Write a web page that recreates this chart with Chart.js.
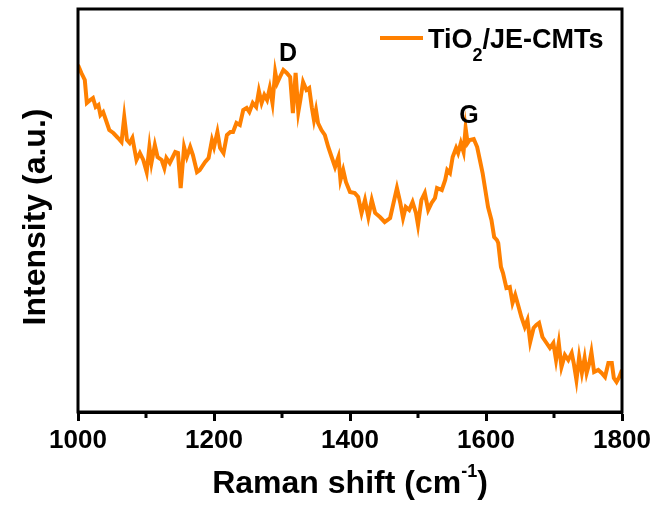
<!DOCTYPE html>
<html>
<head>
<meta charset="utf-8">
<script src="https://cdn.jsdelivr.net/npm/chart.js@4"></script>
<style>
  html, body { margin: 0; padding: 0; background: #fff; }
  #wrap { width: 657px; height: 506px; }
</style>
</head>
<body>
<div id="wrap"><canvas id="mycanvas" width="657" height="506"></canvas></div>
<script>
// Raman spectrum (intensity in arbitrary units)
var ramanShift = [1000,1005,1010,1013,1018,1022,1026,1030,1033,1037,1041,1046,1052,1059,1064,1068,1072,1076,1080,1086,
  1091,1096,1101,1105,1108,1113,1117,1123,1127,1130,1135,1143,1147,1151,1156,1160,1165,1169,1175,1179,
  1187,1192,1197,1200,1205,1209,1214,1219,1224,1228,1233,1238,1243,1248,1252,1257,1262,1266,1270,1274,
  1278,1282,1286,1290,1293,1297,1302,1307,1312,1316,1320,1324,1327,1331,1336,1340,1344,1347,1350,1353,
  1358,1363,1368,1373,1378,1383,1386,1390,1394,1400,1407,1412,1417,1422,1427,1432,1437,1444,1451,1459,
  1465,1469,1474,1478,1482,1487,1492,1497,1500,1505,1510,1515,1520,1525,1528,1535,1540,1543,1547,1551,
  1556,1559,1563,1567,1570,1573,1576,1582,1587,1591,1595,1599,1603,1608,1612,1616,1618,1622,1625,1630,
  1635,1639,1643,1648,1652,1657,1661,1665,1670,1674,1678,1683,1689,1694,1699,1703,1707,1711,1716,1721,
  1726,1729,1733,1737,1741,1745,1748,1752,1755,1759,1765,1770,1775,1780,1785,1788,1792,1796,1800];
var intensity = [347,339,332,309,312,314,305,307,297,300,292,282,279,274,270,295,272,269,274,252,
  259,252,240,265,249,267,255,252,244,254,249,260,259,224,265,255,265,257,240,242,
  250,254,272,265,280,264,259,277,280,280,289,287,302,304,300,309,305,321,309,317,
  312,324,309,340,329,335,342,339,335,299,339,300,312,330,322,324,304,292,302,289,
  282,277,265,255,245,255,232,242,230,220,219,215,199,212,195,212,199,195,190,194,
  212,224,209,194,205,202,210,199,187,212,219,202,209,214,224,222,232,242,239,255,
  264,259,269,260,284,269,272,273,265,252,239,222,205,192,175,172,169,145,139,124,
  125,109,117,105,95,85,92,70,84,87,89,75,69,64,69,52,69,45,57,52,
  59,49,32,55,39,54,39,49,60,40,42,39,35,49,49,34,30,35,42];

var xTicks = [1000,1200,1400,1600,1800];
var xMinorTicks = [1100,1300,1500,1700];
var peakNames = ["D","G"];
var peakShift = [1309,1575];
var peakLabelY = [358,296];

var seriesName = "TiO2/JE-CMTs";
var orange = "#ff8000";
var FONT = "'Liberation Sans', Arial, sans-serif";

var points = [];
for (var i in ramanShift) {
  points.push({x: ramanShift[i], y: intensity[i]});
}

// draws a run of text pieces (for sub/superscripts)
function drawPieces(ctx, pieces, x, y, align) {
  var total = 0;
  pieces.forEach(function(p){
    ctx.font = "bold " + p.size + "px " + FONT;
    p.w = ctx.measureText(p.t).width;
    total += p.w;
  });
  var cx = align === "center" ? x - total/2 : x;
  ctx.textAlign = "left";
  ctx.textBaseline = "alphabetic";
  pieces.forEach(function(p){
    ctx.font = "bold " + p.size + "px " + FONT;
    ctx.fillText(p.t, cx, y + (p.dy || 0));
    cx += p.w;
  });
}

var decor = {
  id: "decor",
  afterDraw: function(chart) {
    var ctx = chart.ctx, a = chart.chartArea;
    var xs = chart.scales.x, ys = chart.scales.y;
    ctx.save();
    ctx.strokeStyle = "#000";
    ctx.lineWidth = 3;
    ctx.strokeRect(a.left, a.top, a.right - a.left, a.bottom - a.top);

    // minor ticks
    xMinorTicks.forEach(function(v){
      var px = Math.round(xs.getPixelForValue(v));
      ctx.beginPath();
      ctx.moveTo(px, a.bottom);
      ctx.lineTo(px, a.bottom + 6);
      ctx.stroke();
    });

    ctx.fillStyle = "#000";
    // peak labels
    ctx.font = "bold 25px " + FONT;
    ctx.textAlign = "center";
    ctx.textBaseline = "middle";
    for (var k = 0; k < peakNames.length; k++) {
      ctx.fillText(peakNames[k], xs.getPixelForValue(peakShift[k]), ys.getPixelForValue(peakLabelY[k]));
    }

    // legend
    ctx.strokeStyle = orange;
    ctx.lineWidth = 4;
    ctx.beginPath();
    ctx.moveTo(380, 38);
    ctx.lineTo(423, 38);
    ctx.stroke();
    drawPieces(ctx, [
      {t: "TiO", size: 27},
      {t: "2", size: 18, dy: 13},
      {t: "/JE-CMTs", size: 27}
    ], 428, 48, "left");

    // axis titles
    drawPieces(ctx, [
      {t: "Raman shift (cm", size: 32},
      {t: "-1", size: 18, dy: -16},
      {t: ")", size: 32}
    ], (a.left + a.right)/2, 493, "center");

    ctx.translate(45, 217);
    ctx.rotate(-Math.PI/2);
    drawPieces(ctx, [{t: "Intensity (a.u.)", size: 32}], 0, 0, "center");
    ctx.restore();
  }
};

var ctx = document.getElementById("mycanvas");
var RamanGraph = new Chart(ctx, {
  type: "line",
  data: {
    datasets: [{
      label: seriesName,
      data: points,
      borderColor: orange,
      backgroundColor: orange,
      borderWidth: 4,
      fill: false,
      tension: 0,
      pointRadius: 0
    }]
  },
  options: {
    responsive: false,
    animation: false,
    layout: { padding: { left: 78, right: 35, top: 9, bottom: 0 } },
    plugins: { legend: { display: false }, tooltip: { enabled: false } },
    scales: {
      x: {
        type: "linear",
        min: 1000,
        max: 1800,
        afterBuildTicks: function(scale) {
          scale.ticks = xTicks.map(function(v){ return {value: v}; });
        },
        afterFit: function(scale) { scale.height = 94; },
        ticks: {
          color: "#000",
          font: { family: FONT, size: 26, weight: "bold" },
          padding: 4,
          maxRotation: 0,
          callback: function(value) { return String(value); }
        },
        grid: { drawOnChartArea: false, tickLength: 9, tickWidth: 3, tickColor: "#000" },
        border: { display: true, color: "#000", width: 3 }
      },
      y: {
        display: false,
        min: 0,
        max: 403
      }
    }
  },
  plugins: [decor]
});
</script>
</body>
</html>
